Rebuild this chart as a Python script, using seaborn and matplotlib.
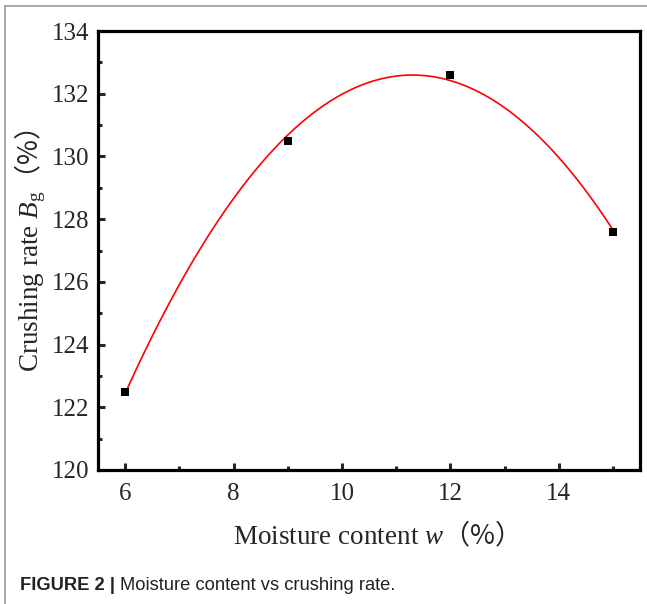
import numpy as np
import pandas as pd
import matplotlib
matplotlib.use("Agg")
import matplotlib.pyplot as plt
import seaborn as sns
from matplotlib.lines import Line2D
from matplotlib.ticker import MultipleLocator

# data
moisture = [6, 9, 12, 15]
crushing_rate = [122.5, 130.5, 132.6, 127.6]
x_ticks = [6, 8, 10, 12, 14]
y_ticks = [120, 122, 124, 126, 128, 130, 132, 134]

df = pd.DataFrame({"moisture": moisture, "crushing": crushing_rate})

W, H = 647, 604
sns.set_style("ticks")
plt.rcParams["font.family"] = ["Liberation Serif", "Noto Sans CJK SC"]
# math text: serif roman/italic, CJK font for the full-width brackets
plt.rcParams["mathtext.fontset"] = "custom"
plt.rcParams["mathtext.rm"] = "Liberation Serif"
plt.rcParams["mathtext.it"] = "Liberation Serif:italic"
plt.rcParams["mathtext.sf"] = "Noto Sans CJK SC"

fig = plt.figure(figsize=(W / 100, H / 100), dpi=100)
ax = fig.add_axes([98 / W, 1 - 470 / H, 542 / W, 439 / H])

# quadratic fit through the points, like the original
sns.regplot(data=df, x="moisture", y="crushing", order=2, ci=None, ax=ax,
            marker="s", truncate=True,
            scatter_kws={"color": "black", "s": 26, "zorder": 3,
                         "linewidths": 0, "alpha": 1},
            line_kws={"color": "red", "lw": 1.2})

ax.set_xlim(5.5, 15.5)
ax.set_ylim(120, 134)
ax.set_xticks(x_ticks)
ax.set_yticks(y_ticks)
ax.xaxis.set_minor_locator(MultipleLocator(1))
ax.yaxis.set_minor_locator(MultipleLocator(1))
ax.tick_params(which="major", direction="in", length=5, width=2.2,
               labelsize=18, pad=6, top=False, right=False)
ax.tick_params(axis="x", which="major", pad=9)
ax.tick_params(which="minor", direction="in", length=3, width=2.2,
               top=False, right=False)
for sp in ax.spines.values():
    sp.set_linewidth(2.3)
    sp.set_color("black")

ax.set_xlabel(r"Moisture content $w\mathsf{（\%）}$", fontsize=19.5, labelpad=11)
ax.set_ylabel(r"Crushing rate $B_\mathrm{g}\mathsf{（\%）}$", fontsize=19.5, labelpad=3)

# thin gray frame of the figure panel (top and left)
fig.add_artist(Line2D([5 / W, 1], [1 - 6 / H, 1 - 6 / H],
                      transform=fig.transFigure, color="#9a9a9a", lw=1.2))
fig.add_artist(Line2D([5 / W, 5 / W], [0, 1 - 6 / H],
                      transform=fig.transFigure, color="#9a9a9a", lw=1.2))

# caption
renderer = fig.canvas.get_renderer()
cap_y = 1 - 586 / H
t1 = fig.text(20 / W, cap_y, "FIGURE 2 |", fontsize=13.2, fontweight="bold",
              family="Liberation Sans", va="center", color="#222222")
bb = t1.get_window_extent(renderer=renderer)
fig.text((bb.x1 + 5) / W, cap_y, "Moisture content vs crushing rate.",
         fontsize=13.2, family="Liberation Sans", va="center", color="#222222")

fig.savefig("out.png", dpi=100)
